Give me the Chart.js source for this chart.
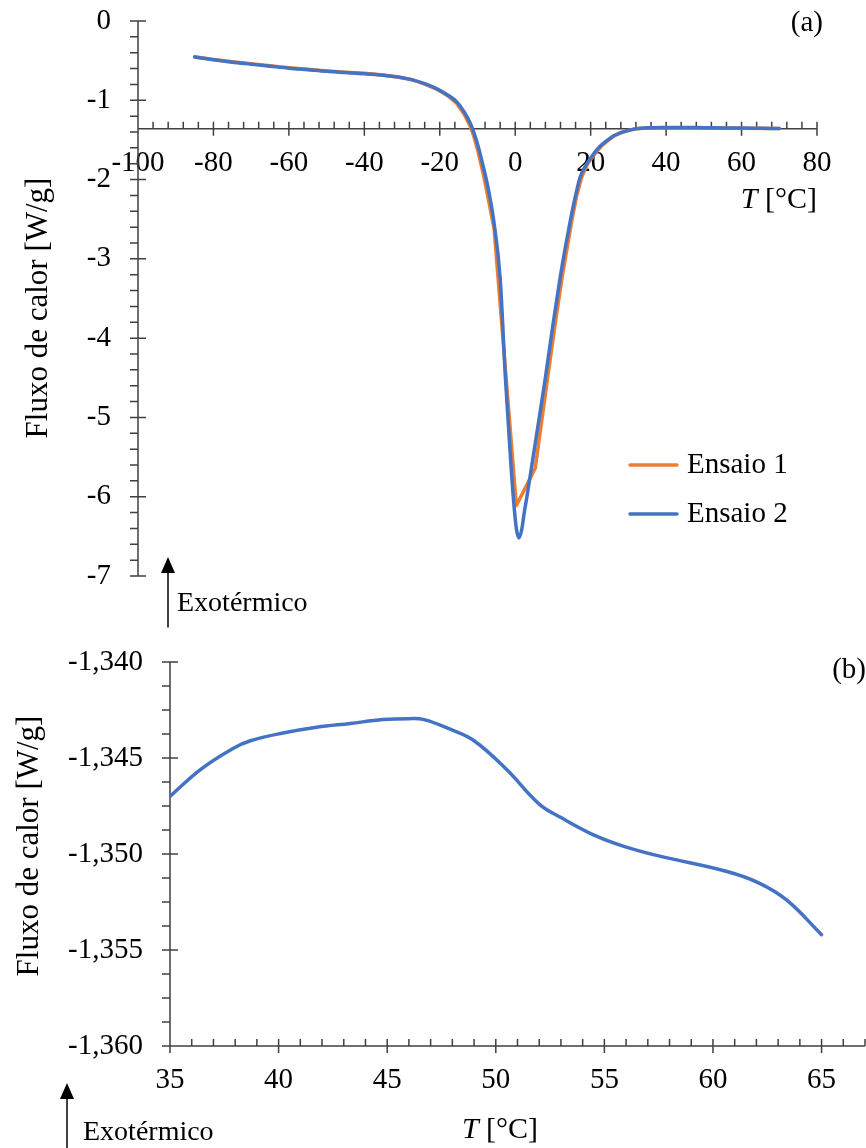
<!DOCTYPE html>
<html>
<head>
<meta charset="utf-8">
<script src="https://cdn.jsdelivr.net/npm/chart.js@4.4.1/dist/chart.umd.min.js"></script>
<style>
  html, body { margin: 0; padding: 0; background: #fff; }
  #wrap { position: relative; width: 866px; height: 1148px; }
  canvas { position: absolute; left: 0; }
  #chartA { top: 0; }
  #chartB { top: 630px; }
</style>
</head>
<body>
<div id="wrap">
  <canvas id="chartA" width="866" height="630"></canvas>
  <canvas id="chartB" width="866" height="518"></canvas>
</div>
<script>
// (a) full DSC run, two trials
var tempA1 = [-85, -80, -75, -70, -65, -60, -55, -50, -45, -40, -35, -30, -27, -24, -21, -18, -15.5, -13.5, -12, -11, -10, -8.5, -7, -5.6, 0.3, 5.3, 8.5, 10.5, 12.4, 13.8, 15, 16.3, 17.6, 19.2, 21, 22.8, 24.5, 26.2, 28, 30, 32, 35, 40, 50, 60, 70];
var fluxA1 = [-0.45, -0.485, -0.515, -0.54, -0.565, -0.59, -0.61, -0.63, -0.645, -0.66, -0.68, -0.715, -0.745, -0.795, -0.855, -0.94, -1.04, -1.18, -1.32, -1.45, -1.62, -1.92, -2.28, -2.62, -6.11, -5.64, -4.53, -3.85, -3.24, -2.85, -2.52, -2.2, -1.97, -1.8, -1.68, -1.58, -1.51, -1.45, -1.41, -1.38, -1.36, -1.35, -1.347, -1.349, -1.352, -1.355];

var tempA2 = [-85, -80, -75, -70, -65, -60, -55, -50, -45, -40, -35, -30, -27, -24, -21, -18, -15.5, -13.5, -12, -11, -10, -8.5, -7, -5.7, -4.0, -2.6, -1.2, -0.45, 0.3, 1.0, 1.7, 2.4, 3.1, 5.5, 7.9, 10, 11.9, 13.3, 14.6, 16, 17.2, 19, 20.7, 22.5, 24.3, 26, 27.8, 30, 32, 35, 40, 46, 50, 55, 60, 65, 70];
var fluxA2 = [-0.455, -0.49, -0.52, -0.545, -0.57, -0.595, -0.615, -0.635, -0.65, -0.665, -0.685, -0.715, -0.745, -0.79, -0.85, -0.93, -1.02, -1.15, -1.28, -1.4, -1.55, -1.83, -2.15, -2.52, -3.24, -4.5, -5.55, -6.04, -6.4, -6.52, -6.42, -6.2, -6.0, -5.27, -4.53, -3.83, -3.24, -2.85, -2.52, -2.2, -1.97, -1.8, -1.68, -1.58, -1.51, -1.45, -1.41, -1.38, -1.36, -1.347, -1.3437, -1.343, -1.3456, -1.3493, -1.3508, -1.354, -1.356];

var xTicksA = [-100, -80, -60, -40, -20, 0, 20, 40, 60, 80];
var yTicksA = [0, -1, -2, -3, -4, -5, -6, -7];

// (b) zoom on the baseline, trial 2
var tempB = [35, 36.4, 37.9, 38.7, 40.2, 41.75, 43.3, 44.8, 46.0, 46.7, 47.9, 49.0, 50.5, 52.0, 53.0, 54.5, 55.9, 57.5, 60.6, 62.1, 63.4, 65.0];
var fluxB = [-1.3470, -1.3456, -1.3445, -1.3441, -1.3437, -1.3434, -1.3432, -1.3430, -1.34295, -1.3430, -1.3435, -1.3441, -1.3456, -1.3474, -1.3481, -1.3490, -1.3496, -1.3501, -1.3509, -1.3515, -1.3524, -1.3542];

var xTicksB = [35, 40, 45, 50, 55, 60, 65];
var yTicksB = [-1.340, -1.345, -1.350, -1.355, -1.360];

var ORANGE = '#ED7D31';
var BLUE = '#4472C4';
var AXIS = '#404040';
var FONT = '"Liberation Serif", "Times New Roman", serif';

function zip(xs, ys) {
  return xs.map(function(x, i) { return {x: x, y: ys[i]}; });
}

// axis lines + major/minor tick marks, Excel style
function axesPlugin(o) {
  return {
    id: 'axesDraw',
    beforeDatasetsDraw: function(chart) {
      var ctx = chart.ctx, xs = chart.scales.x, ys = chart.scales.y;
      var ax = xs.getPixelForValue(xs.min);
      var ay = ys.getPixelForValue(o.cross);
      ctx.save();
      ctx.strokeStyle = AXIS;
      ctx.lineWidth = 1.5;
      ctx.beginPath();
      ctx.moveTo(ax, ys.getPixelForValue(ys.max));
      ctx.lineTo(ax, ys.getPixelForValue(ys.min));
      ctx.moveTo(xs.getPixelForValue(xs.min), ay);
      ctx.lineTo(xs.getPixelForValue(xs.max), ay);
      var n = Math.round((xs.max - xs.min) / o.xMinor);
      for (var i = 0; i <= n; i++) {
        var px = xs.getPixelForValue(xs.min + i * o.xMinor);
        ctx.moveTo(px, ay - 7);
        ctx.lineTo(px, i % o.xEvery === 0 ? ay + 7 : ay);
      }
      n = Math.round((ys.max - ys.min) / o.yMinor);
      for (var j = 0; j <= n; j++) {
        var py = ys.getPixelForValue(ys.min + j * o.yMinor);
        ctx.moveTo(ax - 8, py);
        ctx.lineTo(j % o.yEvery === 0 ? ax + 8 : ax, py);
      }
      ctx.stroke();
      ctx.restore();
    }
  };
}

function drawTitleT(ctx, x, y, align) {
  ctx.font = 'italic 30px ' + FONT;
  var wT = ctx.measureText('T').width;
  ctx.font = '30px ' + FONT;
  var rest = ' [\u00B0C]';
  var wR = ctx.measureText(rest).width;
  var start = align === 'right' ? x - wT - wR : x - (wT + wR) / 2;
  ctx.textAlign = 'left';
  ctx.textBaseline = 'alphabetic';
  ctx.font = 'italic 30px ' + FONT;
  ctx.fillText('T', start, y);
  ctx.font = '30px ' + FONT;
  ctx.fillText(rest, start + wT, y);
}

function drawYTitle(ctx, x, y) {
  ctx.save();
  ctx.translate(x, y);
  ctx.rotate(-Math.PI / 2);
  ctx.font = '31px ' + FONT;
  ctx.textAlign = 'center';
  ctx.textBaseline = 'middle';
  ctx.fillText('Fluxo de calor [W/g]', 0, 0);
  ctx.restore();
}

function drawExo(ctx, x, tipY, bottomY, textX, textY) {
  ctx.save();
  ctx.strokeStyle = '#000';
  ctx.fillStyle = '#000';
  ctx.lineWidth = 1.5;
  ctx.beginPath();
  ctx.moveTo(x, bottomY);
  ctx.lineTo(x, tipY + 10);
  ctx.stroke();
  ctx.beginPath();
  ctx.moveTo(x, tipY);
  ctx.lineTo(x - 7, tipY + 16);
  ctx.lineTo(x + 7, tipY + 16);
  ctx.closePath();
  ctx.fill();
  ctx.font = '28px ' + FONT;
  ctx.textAlign = 'left';
  ctx.textBaseline = 'alphabetic';
  ctx.fillText('Exot\u00E9rmico', textX, textY);
  ctx.restore();
}

var tickFont = {family: FONT, size: 29};

// keep tick padding from pushing the plot area in
function noPad(s) { s.paddingTop = 0; s.paddingBottom = 0; }

var decoA = {
  id: 'decoA',
  afterDraw: function(chart) {
    var ctx = chart.ctx;
    ctx.save();
    ctx.fillStyle = '#000';
    drawYTitle(ctx, 39, 308);
    drawTitleT(ctx, 817, 208, 'right');
    ctx.font = '29px ' + FONT;
    ctx.textAlign = 'right';
    ctx.textBaseline = 'middle';
    ctx.fillText('(a)', 823, 23);
    // legend
    var rows = [465, 514];
    chart.data.datasets.forEach(function(ds, i) {
      ctx.strokeStyle = ds.borderColor;
      ctx.lineWidth = 3.5;
      ctx.lineCap = 'round';
      ctx.beginPath();
      ctx.moveTo(630, rows[i]);
      ctx.lineTo(677, rows[i]);
      ctx.stroke();
      ctx.fillStyle = '#000';
      ctx.textAlign = 'left';
      ctx.textBaseline = 'middle';
      ctx.font = '29px ' + FONT;
      ctx.fillText(ds.label, 687, rows[i]);
    });
    drawExo(ctx, 168, 557, 627, 177, 611);
    ctx.restore();
  }
};

var decoB = {
  id: 'decoB',
  afterDraw: function(chart) {
    var ctx = chart.ctx;
    ctx.save();
    ctx.fillStyle = '#000';
    drawYTitle(ctx, 30, 216);
    drawTitleT(ctx, 500, 508, 'center');
    ctx.font = '29px ' + FONT;
    ctx.textAlign = 'right';
    ctx.textBaseline = 'middle';
    ctx.fillText('(b)', 866, 40);
    drawExo(ctx, 67, 453, 518, 83, 510);
    ctx.restore();
  }
};

new Chart(document.getElementById('chartA'), {
  type: 'line',
  data: {
    datasets: [
      { label: 'Ensaio 1', data: zip(tempA1, fluxA1), borderColor: ORANGE, borderWidth: 3.5,
        pointRadius: 0, tension: 0, borderCapStyle: 'round', borderJoinStyle: 'round', order: 1 },
      { label: 'Ensaio 2', data: zip(tempA2, fluxA2), borderColor: BLUE, borderWidth: 3.5,
        pointRadius: 0, cubicInterpolationMode: 'monotone', borderCapStyle: 'round', order: 0 }
    ]
  },
  options: {
    responsive: false,
    animation: false,
    devicePixelRatio: 1,
    layout: { padding: { top: 21, right: 49, bottom: 54, left: 0 } },
    plugins: { legend: { display: false }, tooltip: { enabled: false } },
    scales: {
      x: {
        type: 'linear', min: -100, max: 80,
        position: { y: -1.36 },
        afterBuildTicks: function(s) { s.ticks = xTicksA.map(function(v) { return {value: v}; }); },
        ticks: { autoSkip: false, maxRotation: 0, padding: 17, font: tickFont, color: '#000',
                 callback: function(v) { return String(v); } },
        grid: { display: false, drawTicks: false },
        border: { display: false }
      },
      y: {
        type: 'linear', min: -7, max: 0,
        afterBuildTicks: function(s) { s.ticks = yTicksA.map(function(v) { return {value: v}; }); },
        afterFit: function(s) { s.width = 138; noPad(s); },
        ticks: { padding: 27, font: tickFont, color: '#000',
                 callback: function(v) { return String(v); } },
        grid: { display: false, drawTicks: false },
        border: { display: false }
      }
    }
  },
  plugins: [axesPlugin({cross: -1.36, xMinor: 4, xEvery: 5, yMinor: 0.2, yEvery: 5}), decoA]
});

new Chart(document.getElementById('chartB'), {
  type: 'line',
  data: {
    datasets: [
      { label: 'Ensaio 2', data: zip(tempB, fluxB), borderColor: BLUE, borderWidth: 3.5,
        pointRadius: 0, tension: 0.4, borderCapStyle: 'round' }
    ]
  },
  options: {
    responsive: false,
    animation: false,
    devicePixelRatio: 1,
    layout: { padding: { top: 32, right: 1, bottom: 102, left: 0 } },
    plugins: { legend: { display: false }, tooltip: { enabled: false } },
    scales: {
      x: {
        type: 'linear', min: 35, max: 67,
        position: { y: -1.36 },
        afterBuildTicks: function(s) { s.ticks = xTicksB.map(function(v) { return {value: v}; }); },
        ticks: { autoSkip: false, maxRotation: 0, padding: 17, font: tickFont, color: '#000',
                 callback: function(v) { return String(v); } },
        grid: { display: false, drawTicks: false },
        border: { display: false }
      },
      y: {
        type: 'linear', min: -1.36, max: -1.34,
        afterBuildTicks: function(s) { s.ticks = yTicksB.map(function(v) { return {value: v}; }); },
        afterFit: function(s) { s.width = 170; noPad(s); },
        ticks: { padding: 27, font: tickFont, color: '#000',
                 callback: function(v) { return v.toFixed(3).replace('.', ','); } },
        grid: { display: false, drawTicks: false },
        border: { display: false }
      }
    }
  },
  plugins: [axesPlugin({cross: -1.36, xMinor: 1, xEvery: 5, yMinor: 0.00125, yEvery: 4}), decoB]
});
</script>
</body>
</html>
